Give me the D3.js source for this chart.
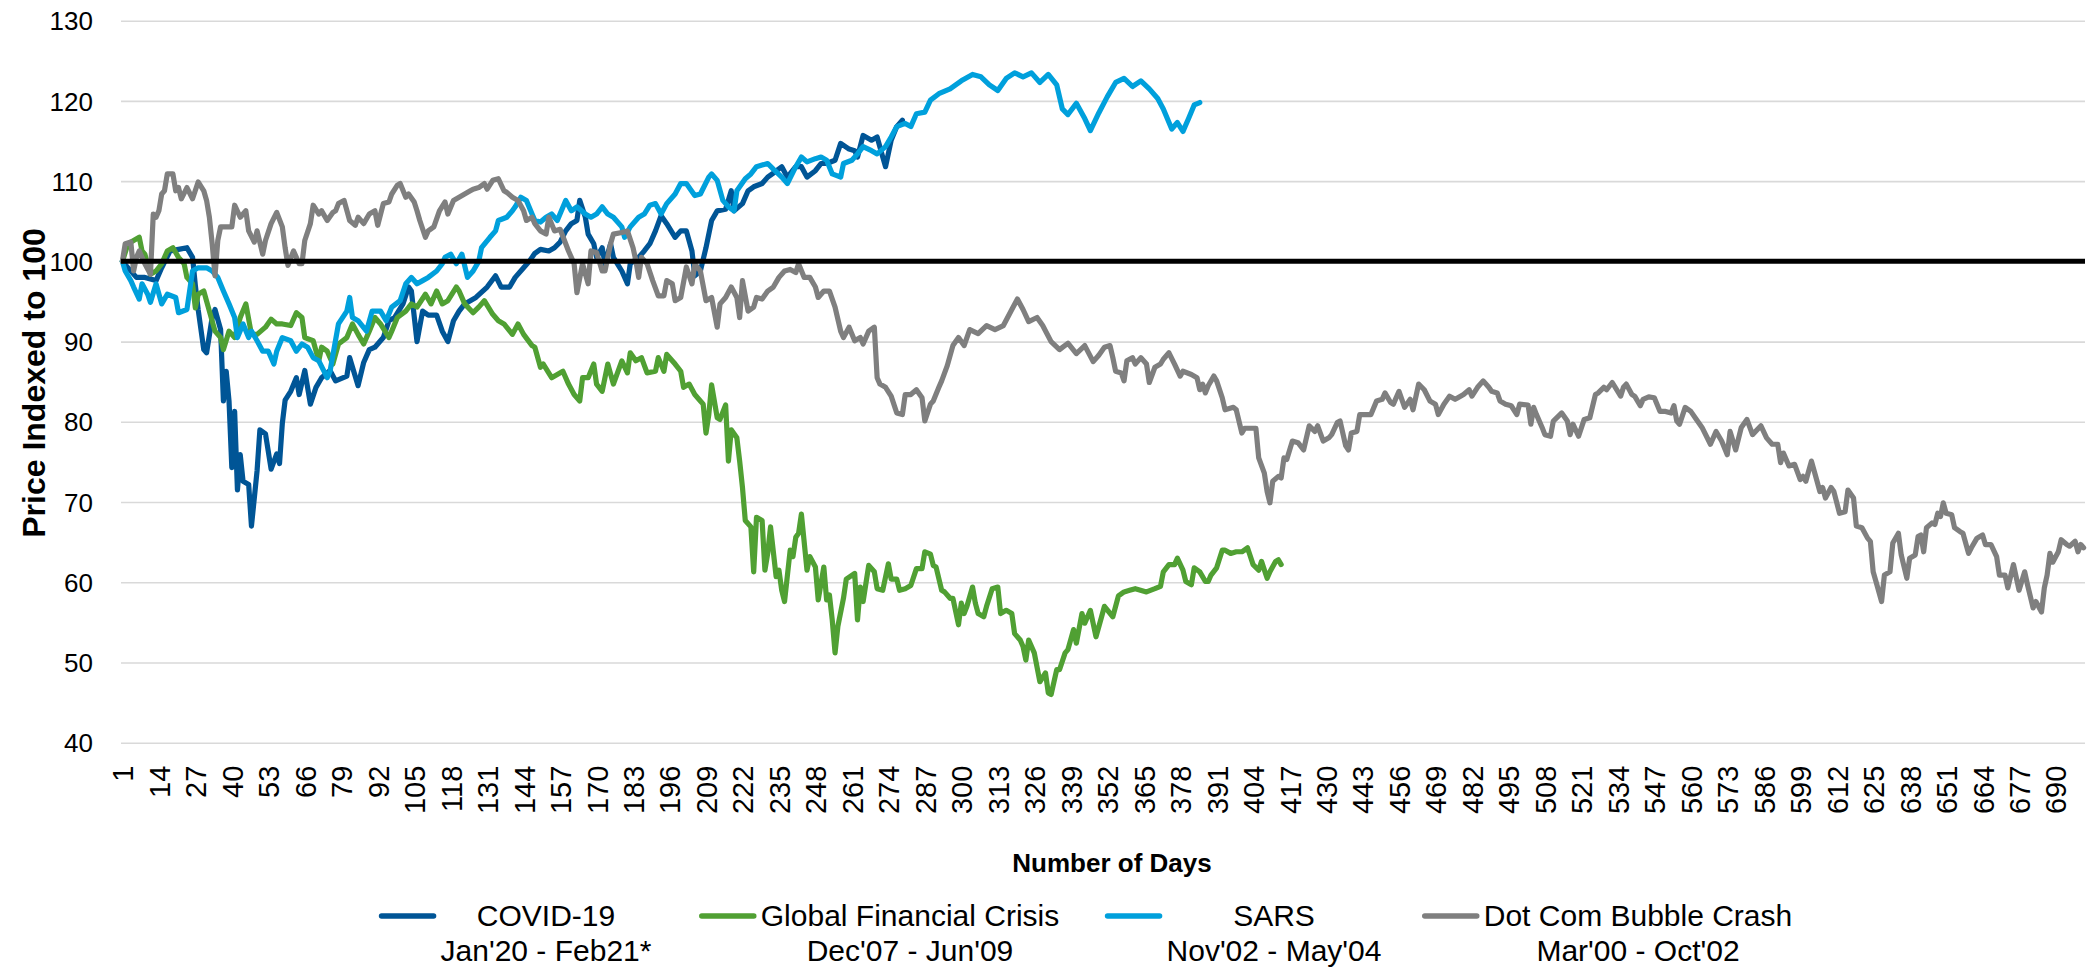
<!DOCTYPE html>
<html>
<head>
<meta charset="utf-8">
<script src="https://cdn.jsdelivr.net/npm/d3@7"></script>
<style>
  body { margin: 0; background: #fff; }
  svg { display: block; font-family: "Liberation Sans", Arial, sans-serif; }
</style>
</head>
<body>
<svg width="2096" height="971"></svg>
<script>
// series values, as [day, price indexed to 100]
const covidData = [
  [1,100],[6,98],[9,98],[13,97.6],[15,99.2],[18,101.3],[21,101.5],[24,101.7],[26,100.5],[27,97],[28,94],[30,89],
  [31,88.6],[33,93],[34,94],[36,91.5],[37,82.6],[38,86.3],[39,82.6],[40,74.3],[41,81.3],[42,71.5],[43,75.9],
  [44,72.6],[46,72.2],[47,67],[49,73.9],[50,79],[52,78.5],[54,74.1],[56,76],[57,74.8],[58,79.8],[59,82.7],
  [61,83.8],[63,85.5],[64,83.4],[66,86.4],[68,82.2],[70,84.3],[72,85.5],[75,86.4],[77,85.1],[81,85.7],[82,88],
  [85,84.5],[87,87.4],[89,89],[91,89.3],[94,90.5],[96,92.6],[98,93],[101,94.7],[103,96.8],[104,96.3],[106,90],
  [108,93.8],[110,93.3],[113,93.3],[115,91.3],[117,90],[119,92.6],[121,93.8],[123,94.7],[127,95.5],[131,96.8],
  [134,98.2],[136,96.8],[139,96.8],[141,98],[144,99.2],[146,100],[148,101],[150,101.5],[153,101.3],[155,101.7],
  [157,102.4],[159,103.8],[161,104.7],[163,105.1],[164,107.6],[166,105.5],[167,103.4],[169,102.2],[170,100.5],
  [172,101.7],[173,99.7],[175,102.2],[176,100.5],[179,98.8],[181,97.2],[182,99.7],[185,100.5],[187,101.3],
  [189,102.2],[191,103.8],[193,105.7],[195,104.7],[198,103],[200,103.8],[202,103.8],[204,101.3],[205,98.2],
  [207,98.8],[209,101.7],[211,105.1],[213,106.3],[216,106.5],[218,108.8],[219,106.3],[222,107.2],[224,108.8],
  [226,109.3],[229,109.7],[231,110.5],[233,111],[236,111.8],[238,110.5],[241,111.8],[243,111.8],[245,110.5],
  [248,111.3],[250,112.2],[252,112.2],[255,112.6],[257,114.7],[260,114],[262,113.8],[263,113],[265,115.7],
  [268,115.1],[270,115.5],[272,113],[273,111.8],[275,115.1],[277,116.8],[279,117.6]
];

const gfcData = [
  [1,100],[3,102.2],[5,102.6],[7,103],[8,101.3],[9,100.9],[11,98.4],[13,98.8],[15,99.7],[17,101.3],[19,101.7],
  [21,100.5],[23,99.7],[24,98],[26,97.2],[27,94.2],[28,95.9],[30,96.3],[32,93.8],[34,91.3],[36,90.5],[37,89],
  [39,91.3],[41,90.5],[43,93],[45,94.7],[47,90.9],[49,90.9],[52,91.8],[54,92.8],[56,92.2],[58,92.2],[61,92],
  [63,93.6],[65,93],[66,90.5],[69,90.1],[71,87.6],[72,89.3],[74,88.8],[76,87.2],[78,89.7],[81,90.5],[83,92.2],
  [85,90.9],[87,89.7],[89,91.3],[91,93],[93,92.2],[96,90.5],[97,91.3],[99,93],[102,93.8],[104,94.7],[106,94.3],
  [109,95.9],[111,94.7],[113,96.3],[115,94.7],[117,95.1],[120,96.8],[121,96.3],[123,94.7],[126,93.6],[128,94.3],
  [130,95.1],[133,93.4],[135,92.6],[137,92.2],[140,90.9],[142,92.2],[144,90.9],[147,89.5],[148,89.3],[150,86.8],
  [151,87.2],[154,85.5],[156,85.9],[158,86.3],[160,84.7],[162,83.4],[164,82.6],[165,85.5],[167,85.5],[169,87.2],
  [170,84.7],[172,83.8],[174,87.2],[176,84.7],[179,87.6],[181,86.1],[182,88.6],[184,87.6],[186,88],[188,86.1],
  [191,86.3],[192,88],[194,86.3],[195,88.4],[198,87.2],[200,86.3],[201,84.3],[203,84.7],[205,83.4],[207,82.6],
  [208,82.2],[209,78.6],[210,80.9],[211,84.6],[213,80.5],[214,80.3],[216,82.1],[217,75.1],[218,79],[220,78],
  [221,75.1],[222,71.8],[223,67.7],[225,66.9],[226,61.3],[227,68.1],[229,67.7],[230,61.5],[231,63.6],[232,66.9],
  [234,60.7],[235,61.5],[236,59],[237,57.6],[239,64],[240,63.2],[241,65.6],[242,66.1],[243,68.5],[245,61.5],
  [246,63.2],[248,61.9],[249,57.8],[251,61.9],[252,57.8],[253,58.4],[254,55.3],[255,51.2],[256,54.5],[258,58],
  [259,60.4],[262,61.1],[263,55.3],[264,59.4],[265,57.6],[267,62.1],[269,61.3],[270,59.2],[272,59],[274,62.3],
  [275,60.4],[277,60.4],[278,59],[280,59.2],[282,59.6],[284,61.7],[286,61.7],[287,63.8],[289,63.5],[290,62.1],
  [291,61.9],[293,59],[294,58.8],[296,58],[297,58],[299,54.7],[300,57.4],[301,56.1],[302,57],[304,59.4],
  [305,57.4],[306,56.1],[308,55.7],[309,57],[311,59.2],[313,59.4],[314,56.1],[316,56.5],[318,56.1],[319,53.6],
  [321,52.8],[322,52],[323,50.3],[324,52.8],[326,51.2],[328,47.6],[330,48.7],[331,46.2],[332,46],[334,49.1],
  [335,49.1],[337,51.2],[338,51.6],[340,54.1],[341,52.4],[343,56.1],[344,54.9],[346,56.5],[348,53.2],[350,55.7],
  [351,57],[354,55.7],[356,58.3],[358,58.8],[360,59],[362,59.2],[366,58.8],[369,59.2],[371,59.5],[372,61.3],
  [374,62.2],[376,62.2],[377,63],[379,61.5],[380,60.1],[382,59.7],[383,61.8],[385,61.3],[387,60.1],[388,60.1],
  [389,60.9],[391,61.8],[393,64],[394,64],[396,63.6],[398,63.8],[400,63.8],[402,64.3],[404,62.2],[406,61.5],
  [407,62.6],[409,60.5],[410,61.3],[412,62.6],[413,62.8],[414,62.2]
];

const sarsData = [
  [1,100],[2,98.8],[4,97.6],[5,96.8],[7,95.3],[8,97.2],[10,95.9],[11,94.9],[13,97.2],[15,94.7],[17,95.9],
  [20,95.5],[21,93.6],[24,94],[26,98.8],[28,99.2],[31,99.2],[33,98.8],[35,98],[37,96.3],[39,94.7],[41,93],
  [42,90.5],[44,92.2],[46,90.5],[47,91.3],[49,90.1],[51,88.8],[53,88.8],[55,87.2],[56,88.8],[58,90.5],[61,90.1],
  [63,88.8],[65,89.7],[67,89.3],[69,88],[71,87.6],[74,85.5],[75,86.3],[78,92.2],[81,93.8],[82,95.5],[83,93],
  [85,92.6],[88,91.3],[90,93.8],[93,93.8],[95,92.6],[97,94.3],[100,95.1],[102,97.2],[104,98],[106,97.2],
  [108,97.6],[110,98],[113,98.8],[115,99.7],[116,100.5],[118,100.9],[120,99.7],[122,100.9],[124,98],[126,98.8],
  [128,100],[129,101.7],[132,103],[134,103.8],[135,105.1],[138,105.5],[140,106.3],[141,106.8],[143,108],
  [145,107.6],[147,105.9],[148,105.1],[150,104.9],[152,105.5],[154,105.9],[156,105.1],[159,107.6],[161,106.3],
  [163,106.8],[166,105.9],[168,105.5],[170,105.9],[172,106.8],[174,105.9],[176,105.5],[179,104.3],[180,103],
  [182,104.3],[185,105.5],[187,105.9],[189,107],[191,107.2],[193,105.9],[195,107.2],[198,108.4],[200,109.7],
  [202,109.7],[205,108.2],[207,108.4],[210,110.5],[211,110.9],[213,110.1],[215,107.6],[217,106.8],[219,106.3],
  [220,108.8],[223,110.3],[225,110.9],[227,111.8],[229,112],[231,112.2],[233,111.5],[236,110.5],[238,109.7],
  [241,111.8],[243,113],[245,112.4],[248,112.8],[250,113],[252,112.6],[254,110.9],[257,110.5],[258,112.2],
  [261,112.6],[263,113.4],[265,114.3],[268,113.8],[270,113.4],[273,114.3],[275,115.5],[277,116.8],[280,117.2],
  [282,116.8],[284,118.4],[287,118.6],[289,120.1],[292,120.9],[296,121.5],[300,122.5],[304,123.3],[307,123],
  [310,122],[313,121.3],[316,122.8],[319,123.5],[322,123],[325,123.5],[328,122.3],[331,123.3],[334,122],
  [336,119],[338,118.3],[341,119.7],[344,117.8],[346,116.3],[349,118.5],[352,120.5],[355,122.3],[358,122.8],
  [361,121.8],[364,122.5],[367,121.5],[370,120.3],[372,119],[375,116.5],[377,117.3],[379,116.2],[381,117.8],
  [383,119.5],[385,119.8]
];

const dotcomData = [
  [1,100],[2,102.2],[4,102.4],[5,98.8],[6,100.5],[7,101.3],[8,100.5],[9,99.7],[11,98.4],[12,105.9],[13,105.5],
  [14,106.3],[15,108.4],[16,108.8],[17,110.9],[19,110.9],[20,108.8],[21,109.2],[22,107.8],[24,109.2],[26,107.8],
  [28,109.9],[30,108.8],[31,107.6],[32,105.5],[33,102.2],[34,98.2],[35,102.6],[36,104.3],[38,104.3],[40,104.3],
  [41,107],[43,105.5],[45,106.3],[46,103.8],[48,102.4],[49,103.8],[51,100.9],[52,102.6],[54,104.7],[56,106.1],
  [58,104.3],[59,101.7],[60,99.5],[62,101.3],[64,99.7],[65,99.7],[66,102.6],[68,104.7],[69,107],[71,105.9],
  [72,106.3],[74,105.1],[76,106.1],[77,106.3],[78,107.2],[80,107.6],[82,105.1],[84,104.5],[85,105.5],[87,104.7],
  [89,105.9],[91,106.3],[92,104.5],[94,107.2],[96,107.4],[97,108.4],[99,109.5],[100,109.7],[102,108],[103,108.4],
  [105,107.4],[106,106.3],[107,105.1],[109,103],[110,103.8],[112,104.3],[114,106.3],[116,107.4],[117,105.9],
  [119,107.6],[121,108],[123,108.4],[125,108.8],[126,109],[128,109.2],[130,109.7],[131,109],[133,110.1],
  [135,110.3],[137,108.8],[138,108.6],[140,108],[142,107.6],[144,106.3],[145,105.1],[147,105.5],[148,104.7],
  [150,103.8],[152,103.4],[153,105.5],[155,103.8],[157,104],[159,102.2],[160,101.3],[162,99.7],[163,96.1],
  [165,99.7],[167,97.2],[168,101.3],[170,101.1],[172,98.8],[173,98.8],[175,102.2],[176,103.4],[179,103.6],
  [181,103.8],[183,101.7],[184,100.1],[185,98],[186,100.5],[188,99.7],[190,97.6],[192,95.7],[194,95.7],
  [195,97.6],[197,97.2],[198,95.1],[200,95.5],[202,99.3],[204,97.2],[205,99.7],[207,98.8],[209,95.1],[211,95.5],
  [213,91.8],[214,94.7],[216,95.5],[218,96.8],[220,95.5],[221,93],[222,97.6],[224,93.8],[226,94.3],[227,95.5],
  [229,95.3],[231,96.3],[233,96.8],[235,98],[237,98.8],[239,99],[241,98.6],[242,99.7],[244,98],[246,98],
  [248,96.8],[249,95.5],[251,96.3],[253,96.3],[255,94.3],[257,91.3],[258,90.5],[260,91.8],[262,90.1],[264,90.5],
  [265,89.7],[267,91.3],[269,91.8],[270,85.5],[271,84.7],[273,84.3],[275,83.2],[277,81.1],[279,80.9],[280,83.4],
  [282,83.4],[284,84],[286,83],[287,80.1],[289,82.2],[290,82.6],[292,84.3],[293,85.1],[295,87],[297,89.5],
  [299,90.5],[301,89.5],[303,91.5],[306,91],[309,92],[312,91.5],[315,92],[318,94],[320,95.3],[322,94],
  [324,92.5],[327,93],[329,92],[332,90],[335,89],[338,89.8],[341,88.5],[344,89.5],[347,87.5],[349,88.3],
  [351,89.3],[353,89.5],[354,88],[355,86.3],[357,86.1],[358,85.1],[359,87.6],[361,88],[362,87.2],[364,88],
  [366,87.2],[367,84.9],[369,86.8],[371,87.2],[372,87.8],[374,88.6],[376,87.2],[378,85.7],[379,86.3],[382,85.9],
  [384,85.5],[385,84],[386,84.7],[387,83.6],[388,84.5],[390,85.7],[391,85.1],[393,83],[394,81.5],[397,81.8],
  [398,81.5],[400,78.6],[401,79.2],[404,79.2],[405,79.2],[406,75.5],[408,73.6],[409,71.3],[410,69.9],[411,72.6],
  [413,73.2],[414,73],[415,75.5],[416,75.3],[418,77.6],[420,77.4],[422,76.5],[424,79.5],[426,78.8],[427,79.5],
  [429,77.6],[431,78],[432,78.4],[434,79.9],[435,80.1],[437,77],[438,76.5],[439,78.6],[441,78.8],[442,80.9],
  [444,80.9],[446,80.9],[448,82.6],[450,82.8],[451,83.6],[453,82.4],[454,82.2],[456,83.8],[458,81.8],[460,82.8],
  [461,81.5],[463,84.7],[465,84],[467,82.6],[469,82.2],[470,80.9],[472,82.2],[474,83.2],[476,82.8],[477,83],
  [479,83.4],[481,84],[482,83.2],[484,84.3],[486,85.1],[488,84.3],[489,83.8],[491,83.6],[492,82.6],[494,82.2],
  [496,82],[498,80.9],[499,82.2],[502,82.1],[503,79.7],[504,81.8],[505,80.9],[507,79.3],[508,78.4],[510,78.2],
  [511,80.1],[514,81.1],[516,80.1],[517,78.4],[518,79.7],[520,78.2],[522,80.3],[524,80.5],[526,83.4],[527,83.6],
  [529,84.3],[530,84],[532,84.9],[535,83.2],[536,84.3],[537,84.7],[539,83.4],[540,83.2],[542,82],[543,82.8],
  [545,83.1],[547,83],[549,81.3],[551,81.3],[553,81.1],[554,82],[555,80.1],[556,79.7],[558,81.8],[560,81.3],
  [562,80.3],[564,79.3],[567,77.2],[569,78.8],[571,77.6],[573,75.9],[574,78.8],[576,76.5],[578,79.3],[580,80.3],
  [582,78.4],[585,79.5],[587,78],[589,77.2],[591,77.2],[592,74.9],[593,76.1],[595,74.5],[597,74.7],[599,72.8],
  [600,73.2],[601,72.6],[603,75.1],[605,72.6],[606,71.3],[607,71.8],[608,70.5],[610,71.8],[611,71.3],[613,68.6],
  [615,68.8],[616,71.5],[618,70.5],[619,67],[621,66.8],[623,65.5],[624,65.1],[625,61.3],[626,60.1],[628,57.6],
  [629,60.9],[631,61.3],[632,64.9],[634,66.1],[635,63.4],[637,60.5],[638,63],[640,63.4],[641,65.7],[642,65.9],
  [643,63.8],[644,66.8],[646,67.4],[647,67.2],[648,68.6],[649,68.2],[650,69.9],[651,68.6],[653,68.4],[654,66.8],
  [656,66.3],[657,66.1],[659,63.6],[660,64.3],[662,65.5],[664,65.9],[665,64.7],[667,64.7],[669,63.2],[670,60.9],
  [672,60.9],[673,59.3],[675,62.2],[677,59],[679,61.3],[680,59.7],[682,56.8],[683,57.6],[685,56.3],[686,59.3],
  [687,60.9],[688,63.6],[689,62.5],[691,63.8],[692,65.3],[694,64.7],[695,64.5],[697,65.1],[698,63.8],[699,64.7],
  [700,64.3]
];

const seriesNames = ['COVID-19', 'Global Financial Crisis', 'SARS', 'Dot Com Bubble Crash'];
const seriesDates = ["Jan'20 - Feb21*", "Dec'07 - Jun'09", "Nov'02 - May'04", "Mar'00 - Oct'02"];
const seriesColors = ['#005596', '#50a033', '#00a0dc', '#7f7f7f'];

const dayCount = 700;
const yTicks = [40, 50, 60, 70, 80, 90, 100, 110, 120, 130];
const xTicks = d3.range(1, dayCount + 1, 13);
const baseline = 100;

let svg = d3.select('svg');
let plot = { l: 121, r: 2085, t: 20.7, b: 742.7 };

let xScale = d3.scaleLinear()
    .domain([0.5, dayCount + 0.5])
    .range([plot.l, plot.r]);

let yScale = d3.scaleLinear()
    .domain([40, 130])
    .range([plot.b, plot.t]);

// y axis with gridlines
let yAxis = d3.axisLeft(yScale)
    .tickValues(yTicks)
    .tickSize(-(plot.r - plot.l))
    .tickPadding(28);

let yG = svg.append('g')
    .attr('transform', 'translate(' + plot.l + ',0)')
    .call(yAxis);
yG.select('.domain').remove();
yG.selectAll('line').attr('stroke', '#d9d9d9').attr('stroke-width', 1.6);
yG.selectAll('text')
    .attr('font-size', '26px')
    .attr('font-family', '"Liberation Sans", Arial, sans-serif')
    .attr('fill', '#000')
    .attr('dy', '0.35em');

// x axis: rotated day labels
let xAxis = d3.axisBottom(xScale)
    .tickValues(xTicks)
    .tickSize(0)
    .tickFormat(d3.format('d'));

let xG = svg.append('g')
    .attr('transform', 'translate(0,' + plot.b + ')')
    .call(xAxis);
xG.select('.domain').remove();
xG.selectAll('text')
    .attr('transform', 'rotate(-90)')
    .attr('x', -23)
    .attr('y', 0)
    .attr('dy', '0.36em')
    .attr('text-anchor', 'end')
    .attr('font-size', '29px')
    .attr('font-family', '"Liberation Sans", Arial, sans-serif')
    .attr('fill', '#000');

// axis titles
svg.append('text')
    .attr('transform', 'translate(33,383) rotate(-90)')
    .attr('text-anchor', 'middle')
    .attr('dy', '0.36em')
    .attr('font-size', '32px')
    .attr('font-weight', 'bold')
    .text('Price Indexed to 100');

svg.append('text')
    .attr('x', 1112)
    .attr('y', 872)
    .attr('text-anchor', 'middle')
    .attr('font-size', '26px')
    .attr('font-weight', 'bold')
    .text('Number of Days');

// lines
let line = d3.line()
    .x(d => xScale(d[0]))
    .y(d => yScale(d[1]));

let allSeries = [covidData, gfcData, sarsData, dotcomData];

svg.append('g').selectAll('path')
    .data(allSeries)
    .enter().append('path')
    .attr('d', line)
    .attr('fill', 'none')
    .attr('stroke', (d, i) => seriesColors[i])
    .attr('stroke-width', 5.2)
    .attr('stroke-linejoin', 'round')
    .attr('stroke-linecap', 'round');

// black reference line at 100
svg.append('line')
    .attr('x1', plot.l)
    .attr('x2', plot.r)
    .attr('y1', yScale(baseline))
    .attr('y2', yScale(baseline))
    .attr('stroke', '#000')
    .attr('stroke-width', 5);

// legend: two-line labels, centred blocks, swatch on the left
let legendCentres = [546, 910, 1274, 1638];
seriesNames.forEach(function(name, i) {
    let g = svg.append('g');
    let cx = legendCentres[i];
    let t1 = g.append('text')
        .attr('x', cx).attr('y', 926)
        .attr('text-anchor', 'middle')
        .attr('font-size', '30px')
        .text(name);
    let t2 = g.append('text')
        .attr('x', cx).attr('y', 961)
        .attr('text-anchor', 'middle')
        .attr('font-size', '30px')
        .text(seriesDates[i]);
    let w = Math.max(t1.node().getComputedTextLength(), t2.node().getComputedTextLength());
    let left = cx - w / 2 - 7;
    g.append('line')
        .attr('x1', left - 52).attr('x2', left)
        .attr('y1', 916).attr('y2', 916)
        .attr('stroke', seriesColors[i])
        .attr('stroke-width', 5.5)
        .attr('stroke-linecap', 'round');
});
</script>
</body>
</html>
